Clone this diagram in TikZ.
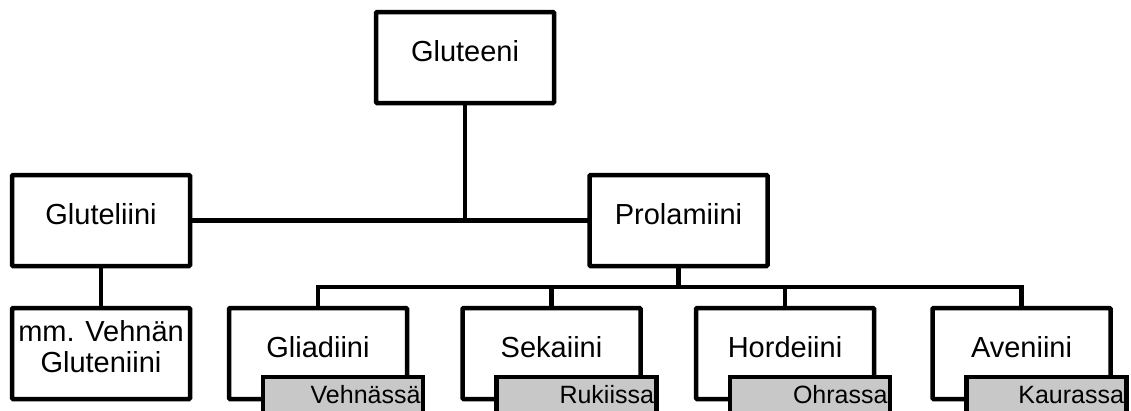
\documentclass[tikz,border=0pt]{standalone}
\usepackage{fontspec}
\setmainfont{Liberation Sans}
\usetikzlibrary{positioning,calc}
\definecolor{tagGray}{RGB}{200,200,200}

\begin{document}
\begin{tikzpicture}[x=1pt,y=-1pt,
    boxbase/.style={draw,line width=4.5pt,rounded corners=1pt,fill=white,outer sep=0pt,
      minimum width=178pt,minimum height=91pt,inner sep=0pt,font=\fontsize{29}{31}\selectfont},
    box/.style={boxbase,text height=20.8pt,text depth=13pt},
    tag/.style={draw,line width=4.5pt,fill=tagGray,outer sep=0pt,anchor=north west,
      minimum height=36pt,text width=155pt,inner xsep=2.5pt,inner ysep=0pt,align=right,
      font=\fontsize{25}{27}\selectfont},
    link/.style={line width=4.5pt}]
  \useasboundingbox (0,0) rectangle (1131,410);
  \clip (0,0) rectangle (1131,410);

  % top levels
  \node[box] (gluteeni) at (465,57.5) {Gluteeni};
  \node[box] (gluteliini) at (101,220.5) {Gluteliini};
  \node[box] (prolamiini) at (678.5,220.5) {Prolamiini};
  \node[boxbase,align=center] (gluteniini) at (101,353.5) {mm. Vehnän\\Gluteniini\rule[-14pt]{0pt}{14pt}};

  % prolamins
  \node[box] (gliadiini) at (318,353.5) {Gliadiini};
  \node[box] (sekaiini) at (551.5,353.5) {Sekaiini};
  \node[box] (hordeiini) at (785,353.5) {Hordeiini};
  \node[box] (aveniini) at (1021.5,353.5) {Aveniini};

  \node[tag] (vehnassa) at ($(gliadiini.south west)+(34,-22)$) {Vehnässä};
  \node[tag] (rukiissa) at ($(sekaiini.south west)+(34,-22)$) {Rukiissa};
  \node[tag] (ohrassa) at ($(hordeiini.south west)+(34,-22)$) {Ohrassa};
  \node[tag] (kaurassa) at ($(aveniini.south west)+(34,-22)$) {Kaurassa};

  % connectors
  \draw[link] (gluteliini.east) -- (gluteliini.east -| prolamiini.west);
  \draw[link] (gluteeni.south) -- (gluteeni.south |- gluteliini.east);
  \draw[link] (gluteliini.south) -- (gluteniini.north);
  \coordinate (bus) at ($(prolamiini.south)+(0,21)$);
  \draw[link] (prolamiini.south) -- (bus);
  \draw[link] (gliadiini.north) |- (aveniini.north |- bus) -- (aveniini.north);
  \draw[link] (sekaiini.north) -- (sekaiini.north |- bus);
  \draw[link] (hordeiini.north) -- (hordeiini.north |- bus);
\end{tikzpicture}
\end{document}
